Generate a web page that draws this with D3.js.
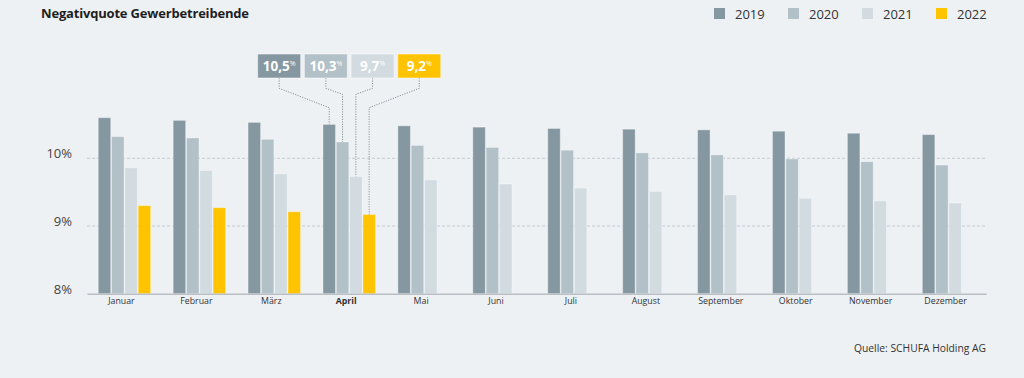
<!DOCTYPE html>
<html>
<head>
<meta charset="utf-8">
<script src="https://cdn.jsdelivr.net/npm/d3@7"></script>
<style>
  body { margin: 0; background: #eef1f4; }
  svg { display: block; font-family: "Open Sans", sans-serif; }
</style>
</head>
<body>
<svg id="chart" width="1024" height="378"></svg>
<script>
// data
const months = ["Januar", "Februar", "März", "April", "Mai", "Juni", "Juli", "August", "September", "Oktober", "November", "Dezember"];
const years = ["2019", "2020", "2021", "2022"];
const v2019 = [10.60, 10.56, 10.53, 10.50, 10.48, 10.46, 10.44, 10.43, 10.42, 10.40, 10.37, 10.35];
const v2020 = [10.32, 10.30, 10.28, 10.24, 10.19, 10.16, 10.12, 10.08, 10.05, 9.99, 9.95, 9.90];
const v2021 = [9.86, 9.82, 9.77, 9.73, 9.68, 9.62, 9.56, 9.51, 9.46, 9.41, 9.37, 9.34];
const v2022 = [9.30, 9.27, 9.21, 9.17];
const yTicks = [8, 9, 10];
const highlightMonth = "April";
const calloutLabels = ["10,5", "10,3", "9,7", "9,2"];

const colors = ["#8598a2", "#b2c0c7", "#d2dbe0", "#ffc300"];
const seriesValues = [v2019, v2020, v2021, v2022];

const svg = d3.select("#chart");
const width = 1024, height = 378;
const margin = {top: 20, right: 38, bottom: 84, left: 87};

const x = d3.scaleBand()
    .domain(months)
    .range([margin.left, width - margin.right])
    .paddingInner(0.3)
    .paddingOuter(0.15);

const xs = d3.scaleBand()
    .domain(years)
    .range([0, x.bandwidth()])
    .paddingInner(0.06);

const y = d3.scaleLinear()
    .domain([8, 10.75])
    .range([293.7, 107.5]);

// title
svg.append("text")
    .attr("x", 41)
    .attr("y", 18)
    .attr("font-size", 13)
    .attr("font-weight", 700)
    .attr("fill", "#1e1e1e")
    .attr("textLength", 208)
    .text("Negativquote Gewerbetreibende");

// legend
const legend = svg.append("g").selectAll("g").data(years).enter()
    .append("g")
    .attr("transform", (d, i) => `translate(${714 + i * 74},0)`);
legend.append("rect")
    .attr("y", 8)
    .attr("width", 11)
    .attr("height", 11)
    .attr("fill", (d, i) => colors[i]);
legend.append("text")
    .attr("x", 21)
    .attr("y", 19)
    .attr("font-size", 13)
    .attr("fill", "#333")
    .text(d => d);

// grid lines
svg.append("g").selectAll("line").data(yTicks.filter(t => t > 8)).enter()
    .append("line")
    .attr("x1", margin.left)
    .attr("x2", width - margin.right)
    .attr("y1", d => y(d))
    .attr("y2", d => y(d))
    .attr("stroke", "#c4cacf")
    .attr("stroke-dasharray", "3,2");

// y axis labels
svg.append("g").selectAll("text").data(yTicks).enter()
    .append("text")
    .attr("x", 72)
    .attr("y", d => y(d))
    .attr("text-anchor", "end")
    .attr("font-size", 13)
    .attr("fill", "#444")
    .text(d => d + "%");

// bars
const groups = svg.append("g").selectAll("g").data(months).enter()
    .append("g")
    .attr("transform", d => `translate(${x(d)},0)`);

groups.selectAll("rect")
    .data((m, mi) => years.map((yr, si) => ({yr, si, v: seriesValues[si][mi]})).filter(d => d.v != null))
    .enter()
    .append("rect")
    .attr("x", d => xs(d.yr))
    .attr("y", d => y(d.v))
    .attr("width", xs.bandwidth())
    .attr("height", d => y(8) - y(d.v))
    .attr("fill", d => colors[d.si])
    .attr("stroke", "rgba(255,255,255,0.35)")
    .attr("stroke-width", 1);

// baseline / x axis
const xAxis = svg.append("g")
    .attr("transform", `translate(0,${y(8)})`)
    .call(d3.axisBottom(x).tickSize(0).tickPadding(4));
xAxis.select(".domain").attr("stroke", "#b9bfc4").attr("stroke-width", 1.5);
xAxis.selectAll(".tick text")
    .attr("dx", -3)
    .attr("font-family", "Open Sans, sans-serif")
    .attr("font-size", 8.8)
    .attr("fill", "#333")
    .attr("font-weight", d => d === highlightMonth ? 700 : 400);

// callouts for April
const hi = months.indexOf(highlightMonth);
const boxW = 43, boxH = 24, boxStep = 46.7, boxTop = 54;
const center = x(highlightMonth) + x.bandwidth() / 2;
const boxX = i => center + (i - 1.5) * boxStep - boxW / 2;
const bendY = [107.7, 94.3, 94.3, 107.7];

const callouts = svg.append("g").selectAll("g").data(years).enter().append("g");

callouts.append("path")
    .attr("fill", "none")
    .attr("stroke", "#8a8f94")
    .attr("stroke-width", 1)
    .attr("stroke-dasharray", "1.2,1.3")
    .attr("d", (d, i) => {
      const bx = boxX(i) + boxW / 2;
      const tx = x(highlightMonth) + xs(d) + xs.bandwidth() / 2;
      const ty = y(seriesValues[i][hi]);
      return `M${bx},${boxTop + boxH}V88.3L${tx},${bendY[i]}V${ty}`;
    });

callouts.append("rect")
    .attr("x", (d, i) => boxX(i))
    .attr("y", boxTop)
    .attr("width", boxW)
    .attr("height", boxH)
    .attr("fill", (d, i) => colors[i])
    .attr("stroke", "rgba(255,255,255,0.5)");

const ct = callouts.append("text")
    .attr("x", (d, i) => boxX(i) + boxW / 2)
    .attr("y", boxTop + 17)
    .attr("text-anchor", "middle")
    .attr("fill", "#fff")
    .attr("font-weight", 700)
    .attr("font-size", 13.5);
ct.append("tspan").text((d, i) => calloutLabels[i]);
ct.append("tspan")
    .attr("font-size", 7)
    .attr("font-weight", 400)
    .attr("dy", -5)
    .text("%");

// source
svg.append("text")
    .attr("x", 986)
    .attr("y", 352)
    .attr("text-anchor", "end")
    .attr("font-size", 10.3)
    .attr("fill", "#333")
    .text("Quelle: SCHUFA Holding AG");
</script>
</body>
</html>
